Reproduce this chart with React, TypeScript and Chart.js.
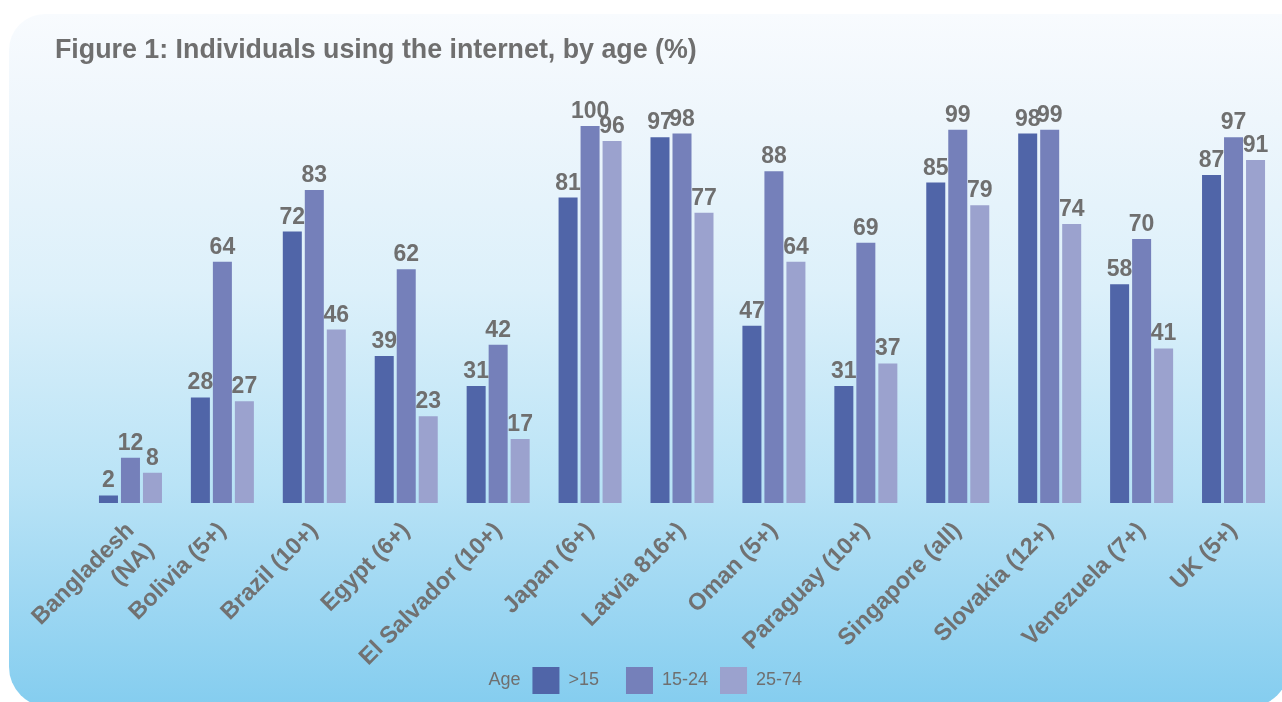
import React, { useEffect, useRef } from "react";
import { Chart, registerables } from "chart.js";

Chart.register(...registerables);

const categories: (string | string[])[] = [
  ["Bangladesh", "(NA)"],
  "Bolivia (5+)",
  "Brazil (10+)",
  "Egypt (6+)",
  "El Salvador (10+)",
  "Japan (6+)",
  "Latvia 816+)",
  "Oman (5+)",
  "Paraguay (10+)",
  "Singapore (all)",
  "Slovakia (12+)",
  "Venezuela (7+)",
  "UK (5+)",
];

const seriesLabels = [">15", "15-24", "25-74"];
const over15 = [2, 28, 72, 39, 31, 81, 97, 47, 31, 85, 98, 58, 87];
const age15to24 = [12, 64, 83, 62, 42, 100, 98, 88, 69, 99, 99, 70, 97];
const age25to74 = [8, 27, 46, 23, 17, 96, 77, 64, 37, 79, 74, 41, 91];
const seriesColors = ["#5065a8", "#7580ba", "#9ba2ce"];
const legendTitle = "Age";
const titleText = "Figure 1: Individuals using the internet, by age (%)";

const FONT = "'Liberation Sans', Arial, Helvetica, sans-serif";
const GREY = "#6f6f6f";

const valueLabelPlugin = {
  id: "valueLabels",
  afterDatasetsDraw(chart: any) {
    const ctx = chart.ctx;
    ctx.save();
    ctx.font = `bold 23px ${FONT}`;
    ctx.fillStyle = GREY;
    ctx.textAlign = "center";
    ctx.textBaseline = "alphabetic";
    chart.data.datasets.forEach((ds: any, i: number) => {
      const meta = chart.getDatasetMeta(i);
      meta.data.forEach((el: any, j: number) => {
        ctx.fillText(String(ds.data[j]), el.x, el.y - 8);
      });
    });
    ctx.restore();
  },
};

const legendTitlePlugin = {
  id: "legendTitleInline",
  afterDraw(chart: any) {
    const lg = chart.legend;
    if (!lg || !lg.legendHitBoxes || !lg.legendHitBoxes.length) return;
    const hb = lg.legendHitBoxes[0];
    const ctx = chart.ctx;
    ctx.save();
    ctx.font = `18px ${FONT}`;
    ctx.fillStyle = GREY;
    ctx.textAlign = "right";
    ctx.textBaseline = "middle";
    ctx.fillText(legendTitle, hb.left - 12, hb.top + hb.height / 2);
    ctx.restore();
  },
};

export default function App() {
  const canvasRef = useRef<HTMLCanvasElement | null>(null);

  useEffect(() => {
    if (!canvasRef.current) return;
    const padTo = [">15     ", "15-24  ", "25-74"];
    const chart = new Chart(canvasRef.current, {
      type: "bar",
      data: {
        labels: categories,
        datasets: [
          { label: seriesLabels[0], data: over15, backgroundColor: seriesColors[0] },
          { label: seriesLabels[1], data: age15to24, backgroundColor: seriesColors[1] },
          { label: seriesLabels[2], data: age25to74, backgroundColor: seriesColors[2] },
        ],
      },
      options: {
        responsive: false,
        animation: false,
        datasets: {
          bar: { categoryPercentage: 0.718, barPercentage: 0.864 },
        },
        layout: { padding: { left: 55, right: 2.5, top: 0, bottom: -2 } },
        scales: {
          x: {
            grid: { display: false, drawTicks: false },
            border: { display: false },
            ticks: {
              autoSkip: false,
              minRotation: 45,
              maxRotation: 45,
              padding: 14,
              color: "#717171",
              font: { family: FONT, size: 23.5, weight: "bold" },
            },
            afterFit(scale: any) {
              scale.height = 162;
            },
          },
          y: {
            min: 0,
            max: 100,
            grid: { display: false, drawTicks: false },
            border: { display: false },
            ticks: { display: false },
            afterFit(scale: any) {
              scale.width = 29.5;
            },
          },
        },
        plugins: {
          title: {
            display: true,
            text: titleText,
            align: "start",
            color: GREY,
            font: { family: FONT, size: 26.8, weight: "bold" },
            padding: { top: 35, bottom: 58.8 },
          },
          legend: {
            position: "bottom",
            labels: {
              boxWidth: 27,
              boxHeight: 27,
              padding: 2,
              color: GREY,
              font: { family: FONT, size: 18 },
              generateLabels(ch: any) {
                const items = Chart.defaults.plugins.legend.labels.generateLabels(ch);
                items.forEach((it: any, i: number) => {
                  it.text = padTo[i] ?? it.text;
                  it.lineWidth = 0;
                  it.strokeStyle = "rgba(0,0,0,0)";
                });
                return items;
              },
            },
          },
          tooltip: { enabled: false },
        },
      },
      plugins: [valueLabelPlugin, legendTitlePlugin],
    } as any);
    return () => chart.destroy();
  }, []);

  return (
    <div
      style={{
        position: "fixed",
        left: 0,
        top: 0,
        width: 1282,
        height: 702,
        background: "#ffffff",
        overflow: "hidden",
      }}
    >
      <div
        style={{
          position: "absolute",
          left: 9,
          top: 14,
          width: 1280,
          height: 693,
          borderRadius: "36px 0 40px 40px",
          background:
            "linear-gradient(to bottom, #f8fbfe 0%, #eef6fc 15%, #dcf0fa 40%, #b9e3f6 68%, #a2d9f3 82%, #84cdef 100%)",
        }}
      />
      <canvas
        ref={canvasRef}
        width={1282}
        height={702}
        style={{ position: "absolute", left: 0, top: 0, width: 1282, height: 702 }}
      />
    </div>
  );
}
